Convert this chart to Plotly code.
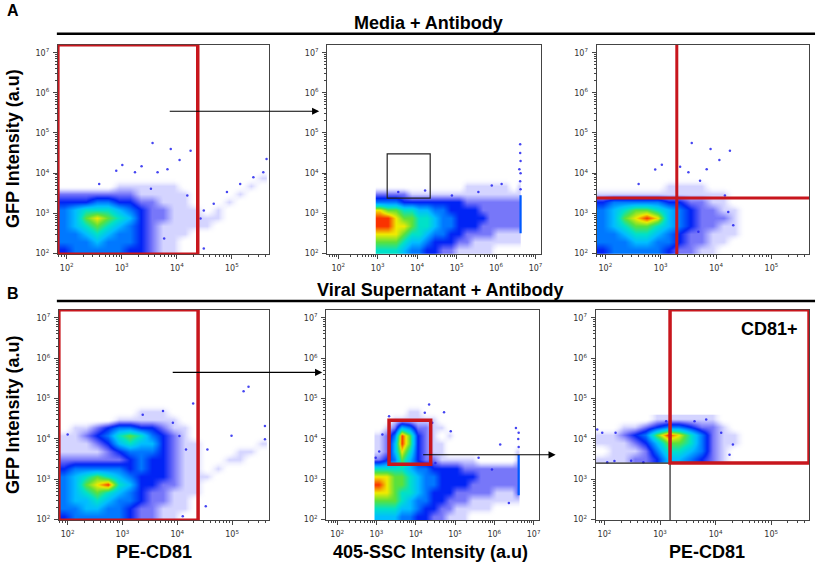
import math
import plotly.graph_objects as go

W, H = 829, 577

# ---------------- data (all coordinates are log10 of intensity) ----------------
CD81_RANGE = [1.84, 5.68]
SSC_RANGE = [1.72, 7.13]
GFP_RANGE = [1.98, 7.2]

CD81_TICKS = [2, 3, 4, 5]
SSC_TICKS = [2, 3, 4, 5, 6, 7]
GFP_TICKS = [2, 3, 4, 5, 6, 7]

# bin centres of the density maps
CD81_BINS = [1.94, 2.14, 2.34, 2.54, 2.74, 2.94, 3.14, 3.34, 3.54, 3.74,
             3.94, 4.14, 4.34, 4.54, 4.74, 4.94, 5.14, 5.34, 5.54]
SSC_BINS = [3.05, 3.25, 3.45, 3.65, 3.85, 4.05, 4.25, 4.45, 4.65, 4.85,
            5.05, 5.25, 5.45, 5.65, 5.85, 6.05, 6.25, 6.45, 6.57]
GFP_BINS = [2.08, 2.28, 2.48, 2.68, 2.88, 3.08, 3.28, 3.48, 3.68, 3.88,
            4.08, 4.28, 4.48, 4.68, 4.88]
GFP_GATED_BINS = [3.5, 3.7, 3.9, 4.1, 4.3, 4.5]

# density level 0-9, top row = highest GFP
A1_DENSITY = [
    "0000000000000000000",
    "0000000000000000000",
    "0000000000000000000",
    "0000000000000000000",
    "0000000000000000000",
    "0000000000000000001",
    "0000011111100000010",
    "2222222111110000100",
    "3334433221110001000",
    "4566654322111010000",
    "4578765322111110000",
    "4567654321111100000",
    "4456544321110000000",
    "4445444321100000000",
    "3444443321100000000",
]
A2_DENSITY = [
    "0000000000000000000",
    "0000000000000000000",
    "0000000000000000000",
    "0000000000000000000",
    "0000000000000000000",
    "0000000000000000000",
    "0000000000011111101",
    "2222111111111111111",
    "4443333333322222222",
    "8776655443333222222",
    "9987766544333322222",
    "9988766544333222222",
    "8887665443322221111",
    "7776554333221111111",
    "6665443322111110000",
]
A3_DENSITY = [
    "0000000000000000000",
    "0000000000000000000",
    "0000000000000000000",
    "0000000000000000000",
    "0000000000000000000",
    "0000000000000000000",
    "0000001111000000000",
    "1111111111110000000",
    "3444443322110000000",
    "4567765432211000000",
    "4578985432221000000",
    "4567765432211000000",
    "4456654322111000000",
    "4445544322110000000",
    "3444443221100000000",
]
B1_DENSITY = [
    "0000000000000000000",
    "0000000111000000000",
    "0000011111100000000",
    "0112344332110000000",
    "1123467643210000000",
    "1112356553211000001",
    "1111234443211000110",
    "2222223433211001100",
    "3444443433211010000",
    "4567654333211100000",
    "4578965332211000000",
    "4567654322111000000",
    "4556544322110000000",
    "4455443221110000000",
    "3444443221100000000",
]
B2_DENSITY = [
    "0000000000000000000",
    "0000110000000000000",
    "0011111100000000000",
    "0125422110000000000",
    "1249732101000000000",
    "1259732110000000000",
    "1258632110000000001",
    "2347532211111000001",
    "6666544333322222222",
    "8877654433333222222",
    "9877654433332222222",
    "8876654333222221112",
    "7776544332221111111",
    "6665543322111110000",
    "5554433221110000000",
]
B3_DENSITY = [
    "0000011111100000000",
    "0011234432210000000",
    "1123479864211000000",
    "1112357764211000000",
    "0111246654210000000",
    "1112235543210000000",
]

# saturated events piled at the top of the SSC scale (x, y_low, y_high)
A2_PILE = (6.62, 2.5, 3.45)
B2_PILE = (6.62, 2.6, 3.6)

# isolated events outside the dense clouds
A1_DOTS = [(3.56, 4.75), (3.89, 4.6), (4.25, 4.56), (4.05, 4.33), (2.9, 4.06),
           (3.01, 4.2), (3.24, 4.02), (3.36, 4.17), (2.59, 3.73), (3.65, 4.02),
           (3.83, 4.1), (3.53, 3.61), (4.19, 3.44), (5.63, 4.35), (5.57, 4.02),
           (5.39, 3.9), (5.15, 3.73), (4.91, 3.53), (4.67, 3.24), (4.49, 3.07),
           (4.43, 2.87), (4.49, 2.12), (3.77, 2.37)]
A2_DOTS = [(6.61, 4.72), (6.59, 4.1), (5.89, 3.69), (6.14, 3.73), (5.55, 3.53),
           (3.52, 3.53), (4.2, 3.57), (4.88, 3.44), (6.62, 3.6), (6.61, 3.8),
           (6.62, 4.0), (6.62, 4.3), (6.61, 4.5)]
A3_DOTS = [(3.56, 4.75), (3.9, 4.6), (4.25, 4.56), (4.06, 4.33), (2.9, 4.09),
           (3.02, 4.21), (3.35, 4.16), (3.83, 4.1), (3.5, 4.02), (2.6, 3.73),
           (3.71, 3.81), (4.16, 3.44), (4.22, 3.03), (4.31, 2.7), (3.68, 2.54)]
B1_DOTS = [(5.3, 5.29), (5.21, 5.18), (4.29, 4.88), (5.6, 4.32), (4.99, 4.08),
           (4.55, 3.74), (2.0, 4.11), (3.37, 4.6), (3.74, 4.69), (3.92, 4.4),
           (4.04, 4.07), (4.16, 3.74), (4.52, 2.33), (4.1, 2.08), (5.6, 3.99)]
B2_DOTS = [(4.34, 4.85), (4.72, 4.66), (4.23, 4.65), (4.89, 4.19), (6.15, 3.86),
           (6.55, 4.27), (3.15, 4.11), (3.07, 3.69), (2.98, 3.53), (4.5, 3.4),
           (5.6, 3.53), (5.94, 3.24), (6.37, 2.41), (4.42, 4.4), (3.32, 4.56),
           (6.62, 3.8), (6.61, 4.0), (6.62, 4.15)]
B3_DOTS = [(1.87, 4.23), (1.96, 4.15), (2.2, 4.15), (3.83, 4.48), (3.62, 4.44),
           (3.11, 4.44), (4.1, 4.15), (4.31, 3.86), (4.25, 3.61), (2.18, 3.45),
           (2.48, 3.46), (2.05, 3.42), (2.7, 3.42)]

# gates
A1_GATE_X = 4.38
A2_GATE = (3.24, 4.33, 3.38, 4.48)
A3_QUAD = (3.29, 3.38)
B1_GATE_X = 4.38
B2_GATE = (3.32, 4.38, 3.37, 4.46)
B3_QUAD = (3.18, 3.40)

# ---------------- style ----------------
RED = "#c8161d"
AXIS = "#444444"
DOT = "#2424ee"
FONT = "Liberation Sans, Arial, sans-serif"
LEVEL_COLORS = [
    "rgba(255,255,255,0)",
    "rgba(40,40,255,0.2)",
    "rgba(20,20,245,0.58)",
    "rgb(0,35,245)",
    "rgb(0,120,255)",
    "rgb(0,190,255)",
    "rgb(0,225,200)",
    "rgb(90,225,60)",
    "rgb(240,235,0)",
    "rgb(250,50,0)",
]
COLORSCALE = [[i / 9, c] for i, c in enumerate(LEVEL_COLORS)]

# pixel boxes of the six plots (left, top, right, bottom)
BOXES = {
    1: (58, 45, 270, 256), 2: (328, 45, 542, 256), 3: (598, 45, 811, 256),
    4: (59, 312, 270, 524), 5: (327, 312, 540, 524), 6: (597, 312, 811, 524),
}


def px(x):
    return x / W


def py(y):
    return 1 - y / H


def minor_vals(rng):
    vals = [math.log10(k * 10 ** n) for n in range(1, 8) for k in range(2, 10)]
    return [v for v in vals if rng[0] <= v <= rng[1]]


def axis(i, rng, ticks, anchor, horizontal):
    l, t, r, b = BOXES[i]
    dom = [px(l), px(r)] if horizontal else [py(b), py(t)]
    return dict(
        domain=dom, range=rng, anchor=anchor,
        tickmode="array", tickvals=ticks,
        ticktext=[f"10<sup>{v}</sup>" for v in ticks],
        ticks="outside", ticklen=4, tickwidth=1, tickcolor=AXIS,
        minor=dict(tickmode="array", tickvals=minor_vals(rng),
                   ticks="outside", ticklen=2, tickcolor=AXIS),
        showline=True, mirror=True, linecolor=AXIS, linewidth=1,
        showgrid=False, zeroline=False, ticklabelstandoff=2,
        tickfont=dict(family="DejaVu Sans", size=8, color="#333"),
        fixedrange=True,
    )


panels = [
    (1, CD81_BINS, GFP_BINS, A1_DENSITY, A1_DOTS, CD81_RANGE, CD81_TICKS, None),
    (2, SSC_BINS, GFP_BINS, A2_DENSITY, A2_DOTS, SSC_RANGE, SSC_TICKS, A2_PILE),
    (3, CD81_BINS, GFP_BINS, A3_DENSITY, A3_DOTS, CD81_RANGE, CD81_TICKS, None),
    (4, CD81_BINS, GFP_BINS, B1_DENSITY, B1_DOTS, CD81_RANGE, CD81_TICKS, None),
    (5, SSC_BINS, GFP_BINS, B2_DENSITY, B2_DOTS, SSC_RANGE, SSC_TICKS, B2_PILE),
    (6, CD81_BINS, GFP_GATED_BINS, B3_DENSITY, B3_DOTS, CD81_RANGE, CD81_TICKS, None),
]

fig = go.Figure()
layout_axes = {}
for i, xb, yb, dens, dots, xrng, xticks, pile in panels:
    xa = "x" if i == 1 else f"x{i}"
    ya = "y" if i == 1 else f"y{i}"
    z = [[int(c) for c in row] for row in reversed(dens)]
    fig.add_trace(go.Heatmap(
        x=xb, y=yb, z=z, xaxis=xa, yaxis=ya,
        zmin=0, zmax=9, colorscale=COLORSCALE, zsmooth="best",
        showscale=False, hoverinfo="skip",
    ))
    if pile:
        fig.add_trace(go.Scatter(
            x=[pile[0], pile[0]], y=[pile[1], pile[2]], xaxis=xa, yaxis=ya,
            mode="lines", line=dict(color="rgb(0,90,255)", width=2.2),
            hoverinfo="skip", showlegend=False,
        ))
    fig.add_trace(go.Scatter(
        x=[d[0] for d in dots], y=[d[1] for d in dots], xaxis=xa, yaxis=ya,
        mode="markers", marker=dict(size=2.5, color=DOT, opacity=0.85),
        hoverinfo="skip", showlegend=False,
    ))
    key = "" if i == 1 else str(i)
    layout_axes[f"xaxis{key}"] = axis(i, xrng, xticks, ya, True)
    layout_axes[f"yaxis{key}"] = axis(i, GFP_RANGE, GFP_TICKS, xa, False)

shapes = []


def rect(xa, ya, x0, x1, y0, y1, color=RED, width=3.5):
    shapes.append(dict(type="rect", xref=xa, yref=ya, x0=x0, x1=x1, y0=y0, y1=y1,
                       line=dict(color=color, width=width), fillcolor="rgba(0,0,0,0)"))


def seg(xa, ya, x0, x1, y0, y1, color=RED, width=3):
    shapes.append(dict(type="line", xref=xa, yref=ya, x0=x0, x1=x1, y0=y0, y1=y1,
                       line=dict(color=color, width=width)))


# gates
rect("x", "y", CD81_RANGE[0], A1_GATE_X, GFP_RANGE[0], GFP_RANGE[1])
rect("x2", "y2", A2_GATE[0], A2_GATE[1], A2_GATE[2], A2_GATE[3], color="#222", width=1.2)
seg("x3", "y3", A3_QUAD[0], A3_QUAD[0], GFP_RANGE[0], GFP_RANGE[1])
seg("x3", "y3", CD81_RANGE[0], CD81_RANGE[1], A3_QUAD[1], A3_QUAD[1])
rect("x4", "y4", CD81_RANGE[0], B1_GATE_X, GFP_RANGE[0], GFP_RANGE[1])
rect("x5", "y5", B2_GATE[0], B2_GATE[1], B2_GATE[2], B2_GATE[3])
seg("x6", "y6", CD81_RANGE[0], B3_QUAD[0], B3_QUAD[1], B3_QUAD[1], color="#222", width=1.2)
seg("x6", "y6", B3_QUAD[0], B3_QUAD[0], GFP_RANGE[0], B3_QUAD[1], color="#222", width=1.2)
rect("x6", "y6", B3_QUAD[0], CD81_RANGE[1], B3_QUAD[1], GFP_RANGE[1])

# header rules
for yy in (34, 303):
    shapes.append(dict(type="line", xref="paper", yref="paper", x0=px(57), x1=px(817),
                       y0=py(yy), y1=py(yy), line=dict(color="black", width=2.5)))

annotations = []


def label(text, x, y, size=18, angle=0):
    annotations.append(dict(text=f"<b>{text}</b>", x=px(x), y=py(y), xref="paper", yref="paper",
                            showarrow=False, xanchor="center", yanchor="middle", textangle=angle,
                            font=dict(family=FONT, size=size, color="black")))


label("A", 13, 11, size=16)
label("B", 13, 296, size=16)
label("Media + Antibody", 430, 23)
label("Viral Supernatant + Antibody", 442, 292)
label("GFP Intensity (a.u)", 13, 149, angle=-90)
label("GFP Intensity (a.u)", 13, 417, angle=-90)
label("PE-CD81", 154, 556)
label("405-SSC Intensity (a.u)", 432, 556)
label("PE-CD81", 709, 556)
label("CD81+", 771, 331)


def arrow(x_tail, x_tip, y):
    annotations.append(dict(text="", x=px(x_tip), y=py(y), xref="paper", yref="paper",
                            ax=-(x_tip - x_tail), ay=0, showarrow=True, arrowhead=2,
                            arrowsize=1.3, arrowwidth=1.1, arrowcolor="black"))


arrow(169, 320, 112)
arrow(172, 323, 375)
arrow(423, 557, 458)

fig.update_layout(
    width=W, height=H, margin=dict(l=0, r=0, t=0, b=0),
    paper_bgcolor="white", plot_bgcolor="white",
    showlegend=False, shapes=shapes, annotations=annotations,
    font=dict(family=FONT),
    **layout_axes,
)

fig.write_html("out.html", config={"displayModeBar": False},
               post_script="document.body.style.margin='0';")
